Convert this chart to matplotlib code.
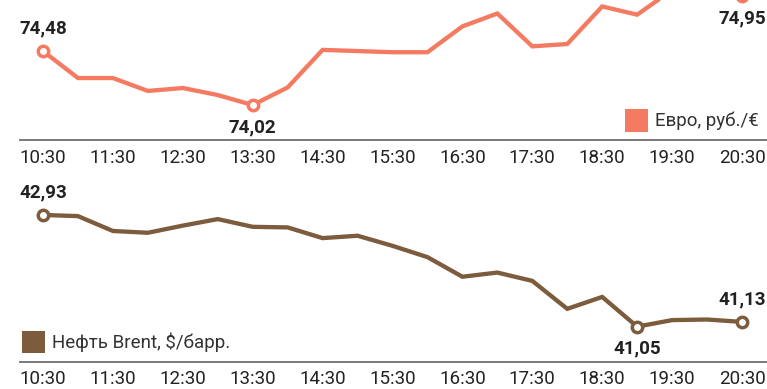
import matplotlib

matplotlib.use("Agg")
import matplotlib.pyplot as plt
from matplotlib.patches import Rectangle

# half-hour steps from 10:30 to 20:30
TIMES = ["10:30", "11:00", "11:30", "12:00", "12:30", "13:00", "13:30",
         "14:00", "14:30", "15:00", "15:30", "16:00", "16:30", "17:00",
         "17:30", "18:00", "18:30", "19:00", "19:30", "20:00", "20:30"]
EURO = [74.48, 74.25, 74.25, 74.14, 74.165, 74.105, 74.02, 74.17, 74.49,
        74.48, 74.47, 74.47, 74.69, 74.80, 74.52, 74.54, 74.86, 74.79,
        75.00, 74.93, 74.95]
BRENT = [42.93, 42.91, 42.66, 42.63, 42.75, 42.86, 42.73, 42.72, 42.54,
         42.58, 42.41, 42.22, 41.89, 41.96, 41.82, 41.35, 41.55, 41.05,
         41.16, 41.17, 41.13]

# (index, text, above?)
EURO_MARKS = [(0, "74,48", True), (6, "74,02", False), (20, "74,95", False)]
BRENT_MARKS = [(0, "42,93", True), (17, "41,05", False), (20, "41,13", True)]

EURO_LABEL = "Евро, руб./€"
BRENT_LABEL = "Нефть Brent, $/барр."

ORANGE = "#F47B62"
BROWN = "#7D5C3E"
TEXT = "#222222"
AXIS = "#6E6E6E"

plt.rcParams["font.family"] = ["Roboto", "DejaVu Sans"]

W, H = 767, 389
fig = plt.figure(figsize=(W / 100, H / 100), dpi=100)
fig.patch.set_facecolor("white")


def px_box(x0, y_top, x1, y_bot):
    return [x0 / W, 1 - y_bot / H, (x1 - x0) / W, (y_bot - y_top) / H]


def panel(rect, values, marks, color, ylim, pad):
    ax = fig.add_axes(rect)
    x = list(range(len(values)))
    ax.plot(x, values, color=color, lw=3.1, solid_joinstyle="miter",
            solid_capstyle="butt", zorder=2)
    for i, txt, above in marks:
        ax.plot(x[i], values[i], "o", ms=7.5, mfc="white", mec=color,
                mew=2.5, zorder=3)
        ax.annotate(txt, (x[i], values[i]), xytext=(0, 16 if above else -16),
                    textcoords="offset points", ha="center", va="center",
                    fontsize=13.5, fontweight="bold", color=TEXT,
                    annotation_clip=False)
    ax.set_xlim(-0.658, 20.715)
    ax.set_ylim(*ylim)
    ticks = x[::2]
    ax.set_xticks(ticks)
    ax.set_xticklabels([TIMES[i] for i in ticks])
    ax.tick_params(axis="x", length=0, pad=pad, labelsize=13.5,
                   labelcolor=TEXT)
    ax.set_yticks([])
    for side in ("top", "left", "right"):
        ax.spines[side].set_visible(False)
    ax.spines["bottom"].set_color(AXIS)
    ax.spines["bottom"].set_linewidth(1.3)
    ax.patch.set_alpha(0)
    return ax


panel(px_box(20, 0, 767, 140), EURO, EURO_MARKS, ORANGE,
      (73.722, 74.915), 6.5)
panel(px_box(20, 180, 767, 362), BRENT, BRENT_MARKS, BROWN,
      (40.455, 43.518), 5.5)

# legend swatches
for (x0, y0, x1, y1), color, label in [
        ((625, 109, 648, 132), ORANGE, EURO_LABEL),
        ((22, 331, 45, 353), BROWN, BRENT_LABEL)]:
    fig.patches.append(Rectangle((x0 / W, 1 - y1 / H), (x1 - x0) / W,
                                 (y1 - y0) / H, transform=fig.transFigure,
                                 color=color, lw=0))
    fig.text((x1 + 7) / W, 1 - (y0 + y1) / 2 / H, label, ha="left",
             va="center", fontsize=13.5, color="#333333")

fig.savefig("out.png", dpi=100)
